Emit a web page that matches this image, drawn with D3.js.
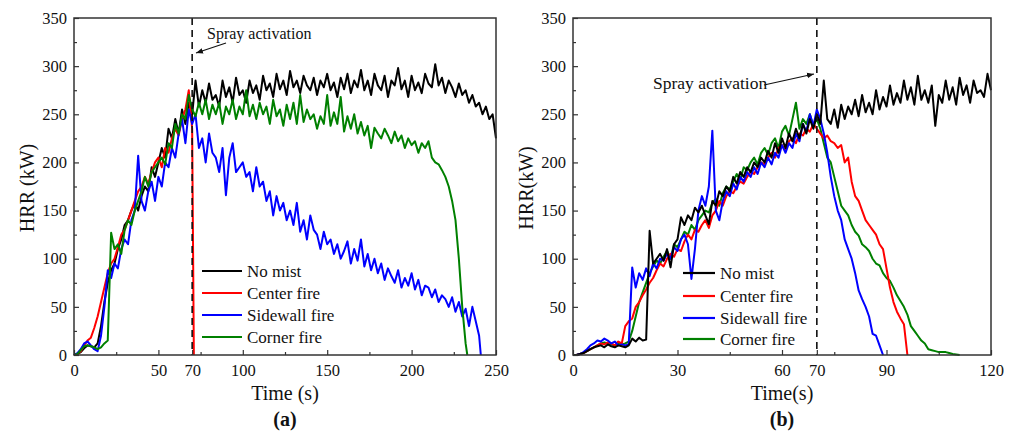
<!DOCTYPE html>
<html>
<head>
<meta charset="UTF-8">
<title>HRR</title>
<script src="https://cdn.jsdelivr.net/npm/d3@7/dist/d3.min.js"></script>
<style>
  body { margin: 0; background: #fff; }
  svg text { font-family: "Liberation Serif", "Times New Roman", serif; fill: #111; }
</style>
</head>
<body>
<svg width="1012" height="432"></svg>
<script>
// ---- data (HRR in kW) ----
// panel (a): one value every 2 s from t = 0
var stepA = 2;
var noMistA = [0,1,3,7,10,9,8,12,30,55,75,88,95,110,120,135,140,150,158,150,165,175,170,195,185,200,215,205,235,225,245,230,255,240,262,250,
  285,258,275,262,282,265,270,258,285,268,278,262,288,270,275,262,285,272,280,265,290,275,282,268,292,276,285,270,295,278,285,272,290,280,
  275,288,270,285,278,292,275,283,268,288,276,292,272,285,278,296,275,285,270,292,280,275,290,268,285,280,298,276,285,268,290,275,283,272,
  292,282,278,302,280,288,272,285,278,268,282,270,275,262,270,258,262,250,258,245,250,225];
var centerA = [0,1,4,10,15,18,28,40,55,70,85,95,100,112,125,130,140,150,160,170,175,185,178,190,200,205,195,215,210,225,235,228,245,255,275,235];
var centerAEnd = [[71,0]];
var sidewallA = [0,2,6,12,14,10,6,4,20,50,88,80,95,90,110,120,115,140,150,207,160,150,170,180,160,185,175,200,195,215,205,230,245,220,255,240,
  250,215,225,200,230,210,205,190,215,166,205,220,190,195,200,185,190,170,195,175,180,160,170,145,165,150,158,140,150,135,158,128,140,120,
  145,130,125,110,128,115,120,105,115,100,108,118,95,110,98,120,92,105,88,100,85,95,78,90,82,75,88,70,80,72,85,68,78,62,72,70,60,68,55,62,
  58,50,60,45,55,40,48,30,50,35,20];
var sidewallAEnd = [[241,0]];
var cornerA = [0,1,5,9,10,9,8,6,8,12,15,127,110,115,105,130,140,135,150,160,170,185,175,190,195,200,205,198,220,215,240,230,250,245,270,255,
  248,262,250,265,245,260,250,262,240,258,250,265,245,258,250,275,248,260,245,262,250,258,240,265,248,255,238,260,245,262,240,270,242,255,
  245,250,235,248,240,270,238,252,240,268,232,248,235,250,230,242,228,238,215,236,230,225,235,228,220,232,222,228,215,225,218,222,210,220,
  215,222,205,200,198,192,185,175,160,140,100,50,12];
var cornerAEnd = [[233,0]];

// panel (b): one value every 1 s from t = 0
var stepB = 1;
var noMistB = [0,0,1,2,4,6,8,9,10,8,11,9,8,10,9,8,10,17,14,18,15,16,129,95,100,105,98,110,91,115,120,143,135,145,140,153,148,155,145,136,
  160,155,170,165,175,170,185,178,190,185,195,190,200,195,205,200,212,205,220,210,225,215,230,222,235,225,240,230,245,235,250,240,285,245,
  240,255,236,260,245,258,250,265,248,270,252,262,250,275,255,268,258,280,260,272,262,285,265,278,260,290,265,275,262,280,238,270,262,285,
  265,278,260,288,270,280,262,285,272,275,268,292,275];
var centerB = [0,0,1,2,4,6,8,10,12,11,13,12,10,14,12,30,35,38,50,55,62,68,75,80,88,95,92,100,105,102,110,108,118,125,120,130,128,135,140,
  132,145,150,160,155,165,170,168,175,180,178,185,190,188,195,200,198,205,210,205,215,218,212,222,225,220,230,228,235,232,240,235,230,225,
  228,222,220,215,218,200,205,180,165,160,150,140,135,130,125,115,110,90,70,55,45,38,32];
var centerBEnd = [[96,0]];
var sidewallB = [0,0,1,3,6,10,12,15,14,17,15,12,14,10,11,10,11,91,70,85,78,90,82,95,90,100,98,105,100,112,108,120,125,115,79,110,150,165,
  155,175,233,150,140,160,170,165,178,172,185,180,190,185,195,188,200,195,205,198,210,205,218,210,220,215,230,222,240,232,250,238,255,245,
  230,210,185,165,150,140,120,110,100,85,67,58,50,40,22,20,10];
var sidewallBEnd = [[89,0]];
var cornerB = [0,0,1,2,4,6,8,10,12,13,12,11,10,12,11,12,14,25,40,55,65,75,85,92,98,95,102,108,100,115,112,120,128,125,135,130,140,145,
  150,148,158,162,155,168,175,172,180,188,182,195,192,200,205,198,210,215,208,220,225,215,232,238,228,245,262,235,245,240,250,238,245,235,
  220,205,200,185,170,155,150,145,135,128,124,115,112,108,100,95,93,85,80,77,70,62,56,50,42,30,25,20,15,12,6,5,4,3,3,3,2,1];
var cornerBEnd = [[111,0]];

var yTicks = [0,50,100,150,200,250,300,350];
var yMinor = [25,75,125,175,225,275,325];
var xTicksA = [0,50,70,100,150,200,250];
var xMinorA = [25,75,125,175,225];
var xTicksB = [0,30,60,70,90,120];
var xMinorB = [15,45,75,105];
var legendNames = ["No mist","Center fire","Sidewall fire","Corner fire"];
var colors = ["#000000","#ff0000","#0000ff","#008000"];
var sprayTime = 70;

var svg = d3.select("svg");

svg.append("defs").append("marker")
  .attr("id","arrow")
  .attr("viewBox","0 -5 10 10")
  .attr("refX",10).attr("refY",0)
  .attr("markerWidth",7).attr("markerHeight",7)
  .attr("markerUnits","userSpaceOnUse")
  .attr("orient","auto")
  .append("path").attr("d","M0,-4L10,0L0,4Z").attr("fill","#111");

function toPts(vals, step, tail){
  var p = vals.map(function(v,i){ return [i*step, v]; });
  return tail ? p.concat(tail) : p;
}

function panel(cfg){
  var x = d3.scaleLinear().domain([0, cfg.xMax]).range([cfg.left, cfg.right]);
  var y = d3.scaleLinear().domain([0, 350]).range([355, 18]);
  var g = svg.append("g");

  // series
  var line = d3.line().x(function(d){return x(d[0]);}).y(function(d){return y(d[1]);});
  cfg.order.forEach(function(k){
    g.append("path")
      .attr("d", line(cfg.series[k]))
      .attr("fill","none")
      .attr("stroke", colors[k])
      .attr("stroke-width", 2)
      .attr("stroke-linejoin","round");
  });

  // spray line
  g.append("line")
    .attr("x1", x(sprayTime)).attr("x2", x(sprayTime))
    .attr("y1", y(350)).attr("y2", y(0))
    .attr("stroke","#111").attr("stroke-width",1.6)
    .attr("stroke-dasharray","7,5");

  // axes
  var xa = g.append("g").attr("transform","translate(0,355)")
    .call(d3.axisBottom(x).tickValues(cfg.xTicks).tickSizeInner(-5).tickSizeOuter(0).tickPadding(9));
  g.append("g").attr("transform","translate(0,355)")
    .call(d3.axisBottom(x).tickValues(cfg.xMinor).tickSizeInner(-3).tickSizeOuter(0).tickFormat(""));
  var ya = g.append("g").attr("transform","translate("+cfg.left+",0)")
    .call(d3.axisLeft(y).tickValues(yTicks).tickSizeInner(-5).tickSizeOuter(0).tickPadding(7));
  g.append("g").attr("transform","translate("+cfg.left+",0)")
    .call(d3.axisLeft(y).tickValues(yMinor).tickSizeInner(-3).tickSizeOuter(0).tickFormat(""));
  g.selectAll(".domain").remove();
  g.selectAll(".tick line").attr("stroke","#333").attr("stroke-width",1.2);
  xa.selectAll("text").style("font-size","16.5px");
  ya.selectAll("text").style("font-size","16.5px");

  g.append("rect")
    .attr("x", cfg.left).attr("y", 18)
    .attr("width", cfg.right - cfg.left).attr("height", 337)
    .attr("fill","none").attr("stroke","#333").attr("stroke-width",1.5);

  // titles
  var cx = (cfg.left + cfg.right)/2;
  g.append("text").attr("x", cx).attr("y", 400).attr("text-anchor","middle")
    .style("font-size","20px").text(cfg.xTitle);
  g.append("text").attr("x", cx).attr("y", 426).attr("text-anchor","middle")
    .style("font-size","20px").style("font-weight","bold").text(cfg.tag);
  g.append("text")
    .attr("transform","translate("+(cfg.left-40)+",188) rotate(-90)")
    .attr("text-anchor","middle").style("font-size","20px").text(cfg.yTitle);

  // legend
  legendNames.forEach(function(n,i){
    var ly = cfg.legY[i];
    g.append("line").attr("x1", cfg.legX).attr("x2", cfg.legX + cfg.legLen)
      .attr("y1", ly).attr("y2", ly).attr("stroke", colors[i]).attr("stroke-width",2.2);
    g.append("text").attr("x", cfg.legX + cfg.legLen + 5).attr("y", ly + 6)
      .style("font-size","17px").text(n);
  });

  // annotation
  g.append("text").attr("x", cfg.ann.tx).attr("y", cfg.ann.ty)
    .style("font-size", cfg.ann.fs).text("Spray activation");
  g.append("line")
    .attr("x1", cfg.ann.a[0]).attr("y1", cfg.ann.a[1])
    .attr("x2", cfg.ann.a[2]).attr("y2", cfg.ann.a[3])
    .attr("stroke","#111").attr("stroke-width",1.2)
    .attr("marker-end","url(#arrow)");
}

panel({
  left: 74, right: 496, xMax: 250,
  xTicks: xTicksA, xMinor: xMinorA,
  series: [toPts(noMistA, stepA), toPts(centerA, stepA, centerAEnd),
           toPts(sidewallA, stepA, sidewallAEnd), toPts(cornerA, stepA, cornerAEnd)],
  order: [0,1,2,3],
  xTitle: "Time (s)", yTitle: "HRR (kW)", tag: "(a)",
  legX: 202, legLen: 40, legY: [271,293,315,337],
  ann: {tx: 207, ty: 39, fs: "16px", a: [226,43,196,53]}
});

panel({
  left: 573, right: 991, xMax: 120,
  xTicks: xTicksB, xMinor: xMinorB,
  series: [toPts(noMistB, stepB), toPts(centerB, stepB, centerBEnd),
           toPts(sidewallB, stepB, sidewallBEnd), toPts(cornerB, stepB, cornerBEnd)],
  order: [3,1,2,0],
  xTitle: "Time(s)", yTitle: "HRR(kW)", tag: "(b)",
  legX: 683, legLen: 32, legY: [273,296,318,339],
  ann: {tx: 653, ty: 89, fs: "17.5px", a: [764,85,814,74]}
});
</script>
</body>
</html>
